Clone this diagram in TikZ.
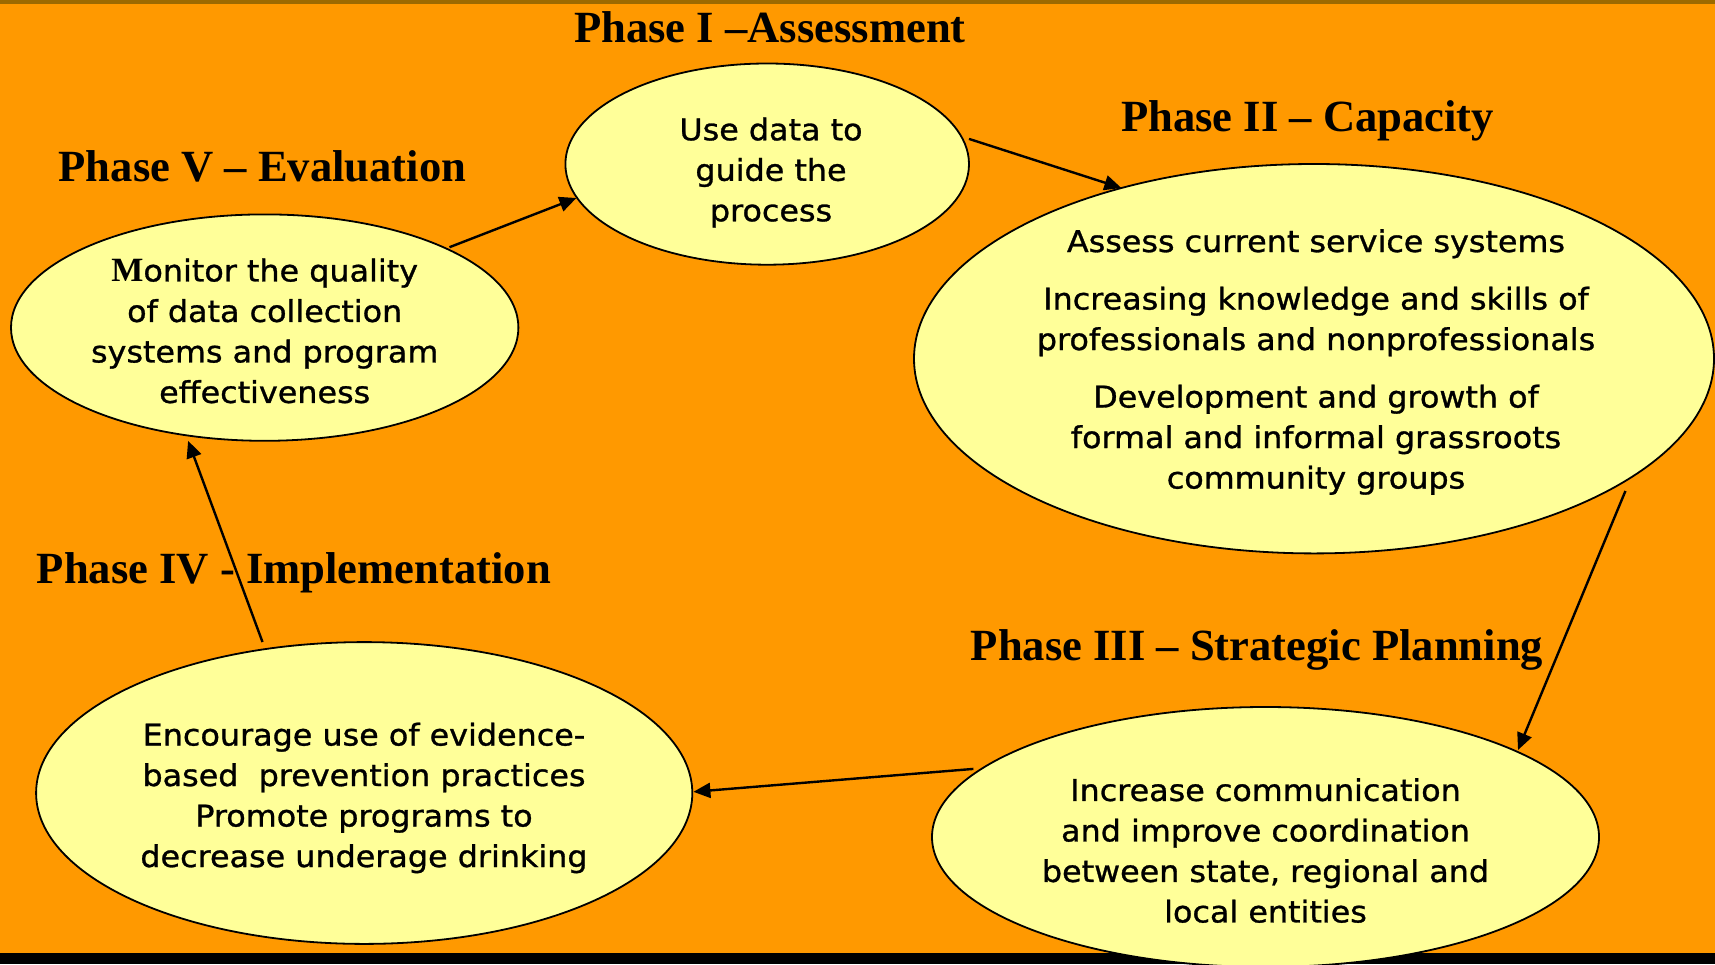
\documentclass[tikz,border=0pt]{standalone}
\usepackage{fontspec}
\setmainfont{Liberation Serif}
\newfontfamily\ellfont[FakeStretch=1.06,FakeBold=1.0]{DejaVu Sans}
\newfontfamily\serifM{Liberation Serif}
\usetikzlibrary{shapes.geometric,arrows.meta,calc}
\definecolor{bgorange}{HTML}{FF9900}
\definecolor{ellfill}{HTML}{FFFF99}
\definecolor{topbar}{HTML}{9C6A00}
\begin{document}
\begin{tikzpicture}[x=1pt,y=1pt,
  ell/.style={ellipse, draw=black, line width=1.8pt, fill=ellfill, inner sep=0pt},
  phase/.style={font=\bfseries\fontsize{44.6}{50}\selectfont, anchor=base, inner sep=0pt},
  etext/.style={font=\ellfont\fontsize{30}{40.5}\selectfont, align=center, inner sep=0pt},
  conn/.style={line width=2.4pt, -{Triangle[length=17pt,width=15pt]}}]
\useasboundingbox (0,0) rectangle (1715,-964);
\clip (0,0) rectangle (1715,-964);
\fill[bgorange] (0,0) rectangle (1715,-964);
\fill[topbar] (0,0) rectangle (1715,-4);
\fill[black] (0,-953) rectangle (1715,-964);
% ellipses
\node[ell, minimum width=403.6pt, minimum height=201.2pt] (e1) at (767.2,-164.1) {};
\node[ell, minimum width=800pt, minimum height=389.4pt] (e2) at (1314,-358.7) {};
\node[ell, minimum width=667pt, minimum height=260pt] (e3) at (1265.5,-837) {};
\node[ell, minimum width=656.2pt, minimum height=301.8pt] (e4) at (364.2,-793) {};
\node[ell, minimum width=507.4pt, minimum height=226.4pt] (e5) at (264.7,-327.6) {};
% ellipse texts
\node[etext] (t1) at (771,-172.5) {Use data to\\guide the\\process};
\node[etext] (t5) at (264.7,-331) {{\serifM\bfseries\fontsize{34}{40.5}\selectfont M}onitor the quality\\of data collection\\systems and program\\effectiveness};
\node[etext] (t2) at (1316,-362) {Assess current service systems\\[17pt]Increasing knowledge and skills of\\professionals and nonprofessionals\\[17pt]Development and growth of\\formal and informal grassroots\\community groups};
\node[etext] (t4) at (364,-798) {Encourage use of evidence-\\based\ \ prevention practices\\Promote programs to\\decrease underage drinking};
\node[etext] (t3) at (1265.5,-850.5) {Increase communication\\and improve coordination\\between state, regional and\\local entities};
% phase titles
\node[phase] (p1) at (770,-42.3) {Phase I –Assessment};
\node[phase] (p2) at (1307.5,-131) {Phase II – Capacity};
\node[phase] (p3) at (1257,-660) {Phase III – Strategic Planning};
\node[phase] (p4) at (294,-583.3) {Phase IV - Implementation};
\node[phase] (p5) at (262.5,-181) {Phase V – Evaluation};
% connectors
\draw[conn] ($(e5)+(184.8,80.4)$) -- ($(e1)+(-190.8,-33.9)$);
\draw[conn] ($(e1)+(201.8,25.2)$) -- ($(e2)+(-192.6,170.7)$);
\draw[conn] ($(e2)+(311.4,-132.3)$) -- ($(e3)+(252.5,87)$);
\draw[conn] ($(e3)+(-292.1,68.1)$) -- ($(e4)+(329.2,1.2)$);
\draw[conn] ($(e4)+(-101.7,151)$) -- ($(e5)+(-76.6,-113.2)$);
\end{tikzpicture}
\end{document}
